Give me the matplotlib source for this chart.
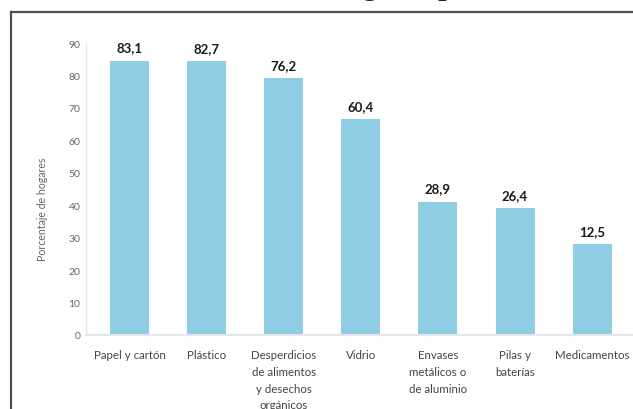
import matplotlib
matplotlib.use("Agg")
import matplotlib.pyplot as plt
from matplotlib.lines import Line2D

categories = ["Papel y cartón", "Plástico", "Desperdicios\nde alimentos\ny desechos\norgánicos",
              "Vidrio", "Envases\nmetálicos o\nde aluminio", "Pilas y\nbaterías", "Medicamentos"]
bar_heights = [84.6, 84.4, 79.2, 66.5, 41.1, 39.1, 27.9]
value_labels = ["83,1", "82,7", "76,2", "60,4", "28,9", "26,4", "12,5"]
yticks = [0, 10, 20, 30, 40, 50, 60, 70, 80, 90]

W, H = 633, 410
fig = plt.figure(figsize=(W / 100, H / 100), dpi=100)
fig.patch.set_facecolor("white")

left_px, right_px, bottom_px, top_px = 86, 633, 336, 44
ax = fig.add_axes([left_px / W, (H - bottom_px) / H, (right_px - left_px) / W, (bottom_px - top_px) / H])

x = list(range(len(categories)))
bars = ax.bar(x, bar_heights, width=0.506, color="#8ecde4", zorder=2)

for xi, h, lab in zip(x, bar_heights, value_labels):
    ax.annotate(lab, (xi, h), xytext=(0, 9.6), textcoords="offset points",
                ha="center", va="center", fontsize=9.5, fontweight="bold",
                color="#1a1a1a", family="Lato")

ax.set_xlim(-0.564, 6.53)
ax.set_ylim(0, 90)
ax.set_yticks(yticks)
ax.set_yticklabels([str(t) for t in yticks], fontsize=7.5, color="#666666", family="Lato")
ax.set_xticks(x)
ax.set_xticklabels(categories, fontsize=8.3, color="#444444", family="Lato",
                   linespacing=1.65, va="top")
ax.tick_params(axis="both", length=0)
ax.tick_params(axis="y", pad=4)
ax.tick_params(axis="x", pad=10)

for s in ["top", "right"]:
    ax.spines[s].set_visible(False)
ax.spines["left"].set_color("#e6e6e6")
ax.spines["bottom"].set_color("#e6e6e6")
ax.spines["left"].set_linewidth(1.0)
ax.spines["bottom"].set_linewidth(1.5)

ax.set_ylabel("Porcentaje de hogares", fontsize=7.6, color="#666666", family="Lato")
ax.yaxis.set_label_coords(-(86 - 48) / (right_px - left_px), 0.435)

# page frame
fig.add_artist(Line2D([11 / W, 11 / W], [0, 1 - 13 / H], transform=fig.transFigure,
                      color="#505050", linewidth=1.6))
fig.add_artist(Line2D([11 / W, 1], [1 - 13 / H, 1 - 13 / H], transform=fig.transFigure,
                      color="#505050", linewidth=1.6))

# cut-off page title
fig.text(322 / W, 1 + 6 / H, ", según tipo", fontsize=22, fontweight="bold",
         family="Liberation Serif", color="#222222", ha="left", va="baseline")

fig.savefig("out.png", dpi=100, facecolor="white")
